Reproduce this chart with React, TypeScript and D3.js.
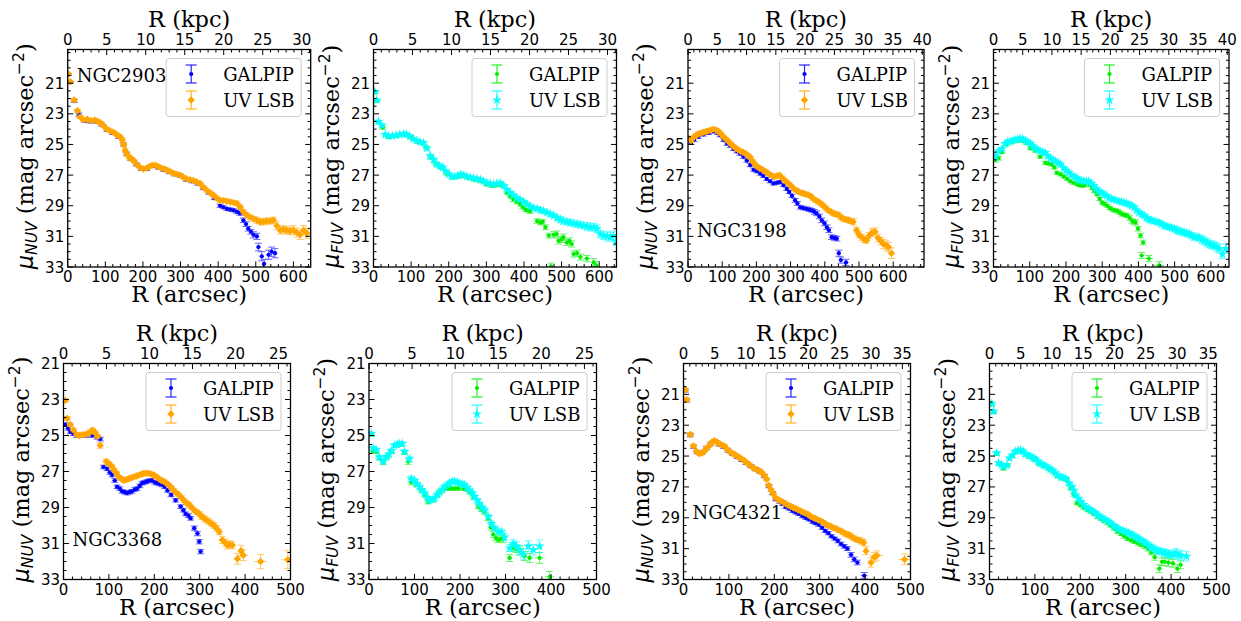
import React from "react";
import * as d3 from "d3";

type P = [number, number, number];

// ---------------- DATA: [R (arcsec), mu (mag/arcsec^2), error] ----------------
const ngc2903NuvLsb: P[] = [[2,20.4,0.05],[7,20.9,0.05],[17,22.1,0.1],[26,22.8,0.1],[33,23.2,0.1],[42,23.4,0.1],[52,23.35,0.1],[62,23.45,0.1],[72,23.4,0.1],[80,23.5,0.1],[88,23.6,0.1],[96,23.8,0.1],[104,24.0,0.1],[112,24.1,0.1],[121,24.2,0.1],[130,24.35,0.1],[139,24.5,0.1],[145,24.7,0.15],[149,25.0,0.15],[153,25.4,0.15],[158,25.65,0.15],[164,25.85,0.15],[170,25.95,0.1],[177,26.1,0.1],[185,26.35,0.1],[193,26.5,0.1],[201,26.6,0.1],[209,26.55,0.1],[217,26.45,0.1],[225,26.35,0.1],[233,26.35,0.1],[241,26.45,0.1],[250,26.55,0.1],[258,26.6,0.1],[266,26.7,0.1],[274,26.8,0.1],[283,26.9,0.1],[291,26.95,0.1],[299,27.0,0.1],[308,27.15,0.1],[316,27.25,0.1],[325,27.3,0.1],[334,27.35,0.1],[343,27.45,0.1],[352,27.55,0.1],[361,27.8,0.1],[370,28.0,0.1],[378,28.15,0.1],[387,28.3,0.12],[396,28.5,0.12],[405,28.65,0.12],[414,28.65,0.12],[423,28.7,0.12],[432,28.75,0.12],[441,28.8,0.12],[450,28.85,0.15],[459,29.1,0.15],[467,29.4,0.15],[476,29.6,0.15],[485,29.75,0.15],[494,29.85,0.15],[503,29.95,0.2],[512,30.05,0.2],[520,30.05,0.2],[529,30.0,0.2],[538,30.0,0.2],[547,29.95,0.2],[556,30.3,0.25],[565,30.6,0.25],[574,30.55,0.25],[582,30.6,0.25],[591,30.65,0.25],[600,30.6,0.3],[609,30.75,0.3],[618,30.9,0.3],[627,30.6,0.3],[636,30.8,0.35]];
const ngc2903NuvGalpip: P[] = [[2,20.45,0.05],[7,20.95,0.05],[17,22.15,0.1],[30,23.05,0.1],[45,23.45,0.1],[60,23.5,0.1],[75,23.5,0.1],[90,23.7,0.1],[105,24.05,0.1],[120,24.25,0.1],[135,24.5,0.1],[148,25.0,0.1],[156,25.6,0.1],[168,25.95,0.1],[182,26.3,0.1],[196,26.6,0.1],[210,26.6,0.1],[225,26.4,0.1],[240,26.5,0.1],[255,26.65,0.1],[270,26.8,0.1],[285,26.95,0.1],[300,27.05,0.1],[315,27.3,0.1],[330,27.4,0.1],[345,27.55,0.1],[360,27.85,0.1],[375,28.15,0.1],[390,28.5,0.1],[405,29.0,0.1],[414,29.1,0.1],[423,29.2,0.1],[432,29.25,0.1],[441,29.3,0.1],[450,29.4,0.12],[458,29.5,0.12],[467,29.95,0.15],[474,30.2,0.15],[480,30.5,0.15],[487,30.7,0.15],[494,30.9,0.2],[503,31.0,0.2],[507,31.7,0.25],[516,32.3,0.3],[522,32.8,0.3],[534,32.2,0.3],[542,32.0,0.3],[551,32.1,0.3]];
const ngc2903FuvLsb: P[] = [[4,21.55,0.05],[9,22.1,0.05],[13,23.5,0.1],[22,23.75,0.1],[31,24.35,0.1],[40,24.45,0.1],[50,24.45,0.1],[60,24.4,0.1],[70,24.35,0.1],[80,24.3,0.1],[88,24.35,0.1],[96,24.45,0.1],[106,24.65,0.1],[115,24.75,0.1],[124,24.85,0.1],[133,24.9,0.1],[142,25.25,0.12],[151,25.75,0.12],[160,26.0,0.12],[168,26.3,0.12],[176,26.4,0.1],[184,26.5,0.1],[192,26.75,0.1],[200,26.95,0.1],[208,27.1,0.1],[216,27.1,0.1],[224,27.05,0.1],[232,26.95,0.1],[240,27.0,0.1],[248,27.1,0.1],[257,27.15,0.1],[266,27.2,0.1],[275,27.25,0.1],[284,27.3,0.1],[293,27.4,0.1],[301,27.5,0.1],[310,27.55,0.1],[319,27.6,0.1],[328,27.55,0.1],[337,27.5,0.1],[346,27.7,0.1],[355,27.95,0.1],[363,28.15,0.1],[372,28.3,0.1],[381,28.5,0.12],[390,28.6,0.12],[399,28.75,0.12],[408,28.9,0.12],[417,29.05,0.12],[426,29.15,0.12],[435,29.2,0.15],[444,29.3,0.15],[452,29.35,0.15],[461,29.45,0.15],[470,29.55,0.15],[479,29.65,0.15],[488,29.8,0.15],[497,29.9,0.2],[505,30.0,0.2],[514,30.05,0.2],[523,30.1,0.2],[532,30.15,0.2],[541,30.2,0.2],[550,30.25,0.2],[559,30.3,0.2],[568,30.35,0.25],[577,30.4,0.25],[586,30.4,0.25],[594,30.5,0.25],[603,30.85,0.25],[612,30.95,0.25],[621,31.0,0.3],[630,31.05,0.3],[638,30.95,0.3],[645,31.3,0.3]];
const ngc2903FuvGalpip: P[] = [[4,21.6,0.05],[9,22.15,0.05],[13,23.55,0.1],[25,23.9,0.1],[40,24.5,0.1],[60,24.45,0.1],[80,24.35,0.1],[100,24.55,0.1],[120,24.85,0.1],[140,25.2,0.1],[152,25.85,0.1],[165,26.25,0.1],[180,26.5,0.1],[195,26.9,0.1],[210,27.15,0.1],[225,27.1,0.1],[240,27.05,0.1],[255,27.2,0.1],[270,27.3,0.1],[285,27.4,0.1],[300,27.6,0.1],[315,27.7,0.1],[330,27.65,0.1],[342,27.65,0.1],[355,28.15,0.1],[364,28.4,0.1],[372,28.6,0.12],[381,28.75,0.12],[390,28.9,0.12],[397,29.1,0.12],[404,29.25,0.12],[411,29.3,0.12],[417,29.35,0.15],[435,30.0,0.15],[444,30.1,0.15],[450,30.05,0.15],[457,30.4,0.15],[466,30.95,0.15],[472,32.95,0.2],[479,30.9,0.2],[487,30.85,0.2],[492,31.3,0.2],[500,31.2,0.2],[505,31.05,0.2],[514,31.4,0.2],[521,31.3,0.2],[527,31.5,0.2],[532,32.15,0.2],[541,32.1,0.2],[550,32.35,0.2],[567,32.45,0.2],[585,32.7,0.25],[592,32.9,0.25]];

const ngc3198NuvLsb: P[] = [[2,24.6,0.1],[9,24.75,0.1],[18,24.5,0.1],[25,24.4,0.1],[31,24.3,0.1],[39,24.25,0.1],[46,24.2,0.1],[53,24.15,0.1],[60,24.1,0.1],[68,24.05,0.1],[75,24.0,0.1],[82,24.05,0.1],[89,24.15,0.1],[96,24.3,0.1],[104,24.5,0.1],[111,24.65,0.1],[118,24.8,0.1],[125,24.95,0.1],[132,25.1,0.1],[140,25.25,0.1],[147,25.35,0.1],[154,25.45,0.1],[161,25.5,0.1],[168,25.6,0.1],[175,25.7,0.1],[182,25.85,0.1],[189,26.1,0.1],[196,26.3,0.1],[203,26.45,0.1],[210,26.55,0.1],[218,26.65,0.1],[225,26.75,0.1],[232,26.85,0.1],[239,26.95,0.1],[246,27.05,0.1],[253,27.1,0.1],[260,27.05,0.1],[267,27.0,0.1],[274,27.15,0.1],[281,27.3,0.1],[288,27.45,0.1],[296,27.6,0.1],[303,27.75,0.1],[310,27.9,0.1],[317,28.0,0.1],[324,28.1,0.1],[331,28.15,0.1],[338,28.2,0.1],[345,28.25,0.1],[352,28.3,0.1],[360,28.4,0.1],[367,28.55,0.1],[374,28.65,0.12],[381,28.75,0.12],[388,28.85,0.12],[396,29.0,0.12],[403,29.15,0.12],[410,29.3,0.12],[418,29.4,0.12],[425,29.5,0.15],[432,29.55,0.15],[440,29.6,0.15],[447,29.75,0.15],[454,29.85,0.15],[462,29.9,0.15],[469,29.95,0.15],[476,30.0,0.15],[483,30.05,0.2],[493,30.6,0.2],[500,30.9,0.2],[508,31.05,0.2],[515,31.2,0.2],[522,31.25,0.2],[530,30.95,0.2],[538,30.75,0.25],[547,30.7,0.25],[556,31.1,0.25],[564,31.3,0.25],[571,31.5,0.3],[580,31.6,0.3],[586,31.7,0.3],[595,32.1,0.35]];
const ngc3198NuvGalpip: P[] = [[2,24.75,0.1],[9,24.9,0.1],[18,24.7,0.1],[30,24.5,0.1],[45,24.35,0.1],[60,24.25,0.1],[75,24.15,0.1],[87,24.25,0.1],[94,24.4,0.1],[104,24.7,0.1],[114,24.95,0.1],[124,25.1,0.1],[133,25.3,0.1],[143,25.45,0.1],[152,25.6,0.1],[162,25.8,0.1],[172,26.05,0.1],[182,26.35,0.1],[192,26.65,0.1],[201,26.75,0.1],[211,26.9,0.1],[220,27.05,0.1],[230,27.25,0.1],[240,27.4,0.1],[250,27.55,0.1],[260,27.5,0.1],[269,27.45,0.1],[279,27.65,0.1],[289,27.9,0.1],[296,28.1,0.1],[304,28.35,0.1],[313,28.65,0.12],[320,28.85,0.12],[328,29.1,0.12],[337,29.15,0.12],[347,29.2,0.12],[355,29.25,0.12],[362,29.3,0.12],[369,29.4,0.15],[376,29.5,0.15],[384,29.7,0.15],[391,29.95,0.15],[399,30.15,0.15],[406,30.4,0.15],[412,30.6,0.15],[420,31.05,0.15],[428,31.1,0.15],[435,31.15,0.15],[441,32.1,0.2],[447,32.55,0.2],[462,32.7,0.2]];
const ngc3198FuvLsb: P[] = [[5,25.8,0.15],[14,25.45,0.12],[23,25.3,0.1],[32,24.95,0.1],[39,24.85,0.1],[46,24.8,0.1],[53,24.75,0.1],[60,24.7,0.1],[67,24.65,0.1],[74,24.6,0.1],[81,24.65,0.1],[88,24.75,0.1],[95,24.85,0.1],[102,24.95,0.1],[109,25.1,0.1],[115,25.25,0.1],[122,25.35,0.1],[129,25.45,0.1],[136,25.5,0.1],[143,25.55,0.1],[150,25.75,0.1],[157,25.9,0.1],[164,26.0,0.1],[171,26.1,0.1],[178,26.2,0.1],[185,26.3,0.1],[194,26.55,0.1],[201,26.7,0.1],[208,26.85,0.1],[215,27.0,0.1],[222,27.1,0.1],[229,27.2,0.1],[235,27.3,0.1],[242,27.35,0.1],[249,27.4,0.1],[256,27.4,0.1],[263,27.4,0.1],[270,27.55,0.1],[277,27.7,0.1],[284,27.9,0.1],[291,28.05,0.1],[298,28.15,0.1],[305,28.25,0.1],[312,28.35,0.1],[319,28.5,0.1],[326,28.55,0.1],[332,28.6,0.1],[339,28.65,0.1],[346,28.7,0.1],[353,28.75,0.1],[360,28.8,0.1],[367,28.85,0.1],[374,28.9,0.12],[381,29.0,0.12],[388,29.1,0.12],[395,29.3,0.12],[402,29.45,0.12],[409,29.55,0.12],[416,29.65,0.12],[422,29.8,0.12],[429,29.9,0.15],[436,29.95,0.15],[443,30.0,0.15],[450,30.05,0.15],[457,30.1,0.15],[464,30.2,0.15],[471,30.3,0.15],[478,30.35,0.15],[485,30.4,0.15],[492,30.45,0.15],[499,30.5,0.2],[506,30.6,0.2],[512,30.65,0.2],[519,30.7,0.2],[526,30.75,0.2],[533,30.8,0.2],[540,30.85,0.2],[547,30.95,0.2],[554,31.05,0.2],[561,31.05,0.2],[568,31.1,0.2],[575,31.2,0.25],[582,31.3,0.25],[589,31.4,0.25],[596,31.5,0.25],[602,31.55,0.25],[609,31.6,0.25],[616,31.7,0.3],[623,31.8,0.3],[632,32.15,0.3],[641,31.8,0.3]];
const ngc3198FuvGalpip: P[] = [[5,26.0,0.15],[14,25.9,0.12],[23,25.5,0.1],[35,25.0,0.1],[50,24.85,0.1],[65,24.75,0.1],[80,24.75,0.1],[92,24.9,0.1],[102,25.25,0.1],[115,25.4,0.1],[129,25.8,0.1],[143,26.2,0.1],[152,26.25,0.1],[161,26.3,0.1],[168,26.5,0.1],[175,26.85,0.1],[185,26.95,0.1],[194,27.1,0.1],[203,27.25,0.1],[212,27.4,0.1],[221,27.5,0.1],[231,27.6,0.1],[238,27.65,0.1],[245,27.7,0.1],[252,27.65,0.1],[259,27.5,0.1],[266,27.65,0.1],[272,27.85,0.1],[279,28.05,0.1],[286,28.25,0.1],[293,28.55,0.1],[300,28.8,0.1],[307,28.9,0.1],[314,29.0,0.1],[321,29.15,0.1],[328,29.25,0.1],[335,29.3,0.12],[342,29.35,0.12],[349,29.45,0.12],[355,29.55,0.12],[362,29.6,0.12],[369,29.65,0.12],[376,29.8,0.15],[383,30.0,0.15],[388,30.05,0.15],[392,30.1,0.15],[399,30.5,0.15],[406,30.95,0.15],[409,32.25,0.2],[413,31.4,0.15],[429,32.45,0.2],[457,32.9,0.25]];

const ngc3368NuvLsb: P[] = [[4,23.05,0.1],[8,24.05,0.1],[15,24.4,0.1],[22,24.7,0.1],[29,24.95,0.1],[35,25.0,0.1],[41,24.95,0.1],[47,24.95,0.1],[53,24.9,0.1],[59,24.8,0.1],[64,24.7,0.1],[70,24.85,0.1],[75,25.05,0.1],[81,25.55,0.15],[94,26.45,0.15],[100,26.55,0.1],[106,26.7,0.1],[111,26.9,0.1],[117,27.1,0.1],[122,27.3,0.1],[128,27.4,0.1],[133,27.5,0.1],[139,27.45,0.1],[144,27.4,0.1],[150,27.35,0.1],[155,27.3,0.1],[161,27.25,0.1],[166,27.2,0.1],[172,27.15,0.1],[177,27.1,0.1],[183,27.1,0.1],[188,27.1,0.1],[194,27.15,0.1],[199,27.2,0.1],[205,27.3,0.1],[210,27.4,0.1],[216,27.5,0.1],[221,27.55,0.1],[227,27.65,0.1],[232,27.75,0.1],[238,27.9,0.1],[243,28.05,0.1],[249,28.2,0.1],[254,28.3,0.1],[260,28.45,0.1],[265,28.6,0.1],[271,28.75,0.12],[277,28.85,0.12],[282,29.0,0.12],[288,29.15,0.12],[293,29.25,0.12],[299,29.35,0.12],[304,29.5,0.15],[310,29.6,0.15],[315,29.7,0.15],[321,29.8,0.15],[326,29.9,0.15],[332,30.0,0.15],[337,30.15,0.15],[343,30.35,0.15],[350,30.8,0.2],[356,30.95,0.2],[361,31.1,0.2],[366,31.05,0.2],[372,31.1,0.2],[383,31.85,0.3],[391,31.4,0.3],[396,31.65,0.3],[434,32.0,0.4],[494,31.9,0.5]];
const ngc3368NuvGalpip: P[] = [[4,24.4,0.1],[10,24.6,0.1],[15,24.8,0.1],[22,24.9,0.1],[29,25.0,0.1],[40,25.0,0.1],[52,25.0,0.1],[63,25.0,0.1],[74,25.1,0.1],[81,25.2,0.1],[88,26.75,0.1],[96,26.85,0.1],[102,27.05,0.1],[107,27.2,0.1],[113,27.5,0.1],[118,27.85,0.1],[124,27.95,0.1],[129,28.1,0.1],[135,28.15,0.1],[140,28.2,0.1],[146,28.15,0.1],[151,28.1,0.1],[157,28.0,0.1],[162,27.95,0.1],[168,27.8,0.1],[173,27.65,0.1],[179,27.6,0.1],[184,27.55,0.1],[190,27.5,0.1],[195,27.5,0.1],[201,27.6,0.1],[206,27.65,0.1],[212,27.7,0.1],[218,27.75,0.1],[223,27.85,0.1],[229,28.05,0.1],[237,28.3,0.1],[247,28.6,0.1],[258,28.95,0.1],[264,29.15,0.1],[269,29.35,0.1],[275,29.45,0.1],[280,29.6,0.1],[288,30.15,0.12],[295,30.45,0.12],[299,30.9,0.12],[302,31.45,0.12]];
const ngc3368FuvLsb: P[] = [[5,24.9,0.1],[9,25.7,0.1],[16,25.8,0.1],[23,26.2,0.1],[31,26.45,0.1],[38,26.2,0.1],[44,26.05,0.1],[49,25.85,0.1],[56,25.55,0.1],[62,25.5,0.1],[67,25.45,0.1],[73,25.45,0.1],[78,25.9,0.1],[89,26.3,0.15],[93,27.4,0.15],[100,27.5,0.1],[106,27.7,0.1],[111,27.85,0.1],[117,28.05,0.1],[122,28.2,0.1],[128,28.45,0.1],[133,28.6,0.1],[139,28.55,0.1],[144,28.5,0.1],[150,28.3,0.1],[155,28.15,0.1],[161,28.0,0.1],[166,27.85,0.1],[172,27.75,0.1],[177,27.65,0.1],[183,27.55,0.1],[188,27.55,0.1],[194,27.6,0.1],[199,27.65,0.1],[205,27.7,0.1],[210,27.75,0.1],[216,27.9,0.1],[221,28.05,0.1],[227,28.2,0.1],[232,28.4,0.1],[238,28.6,0.1],[243,28.8,0.1],[249,29.0,0.12],[254,29.15,0.12],[262,29.5,0.12],[269,29.9,0.15],[276,30.15,0.15],[284,30.35,0.15],[291,30.35,0.15],[298,30.65,0.2],[309,31.25,0.2],[317,31.0,0.2],[324,31.15,0.25],[331,31.35,0.25],[339,31.6,0.3],[350,31.15,0.3],[361,31.35,0.3],[375,31.15,0.35]];
const ngc3368FuvGalpip: P[] = [[5,24.95,0.1],[9,25.9,0.1],[16,25.9,0.1],[23,26.25,0.1],[31,26.5,0.1],[40,26.2,0.1],[50,25.9,0.1],[60,25.55,0.1],[70,25.5,0.1],[78,25.95,0.1],[86,26.45,0.15],[93,27.6,0.15],[104,27.75,0.1],[115,28.05,0.1],[124,28.35,0.1],[130,28.7,0.1],[140,28.6,0.1],[150,28.3,0.1],[158,28.1,0.1],[166,27.95,0.1],[174,27.95,0.1],[181,27.95,0.1],[189,27.95,0.1],[196,27.95,0.1],[207,27.95,0.1],[215,28.0,0.1],[222,28.15,0.1],[230,28.45,0.1],[240,28.95,0.12],[247,29.1,0.12],[254,29.25,0.12],[262,29.6,0.12],[268,30.1,0.15],[273,30.5,0.15],[279,30.7,0.15],[284,30.8,0.15],[290,30.75,0.15],[295,30.75,0.2],[309,31.8,0.2],[317,31.25,0.2],[324,31.3,0.2],[331,31.4,0.25],[342,31.7,0.25],[353,31.8,0.25],[375,31.8,0.3],[397,32.85,0.3]];

const ngc4321NuvLsb: P[] = [[4,20.7,0.1],[7,21.35,0.1],[15,23.6,0.12],[22,24.35,0.12],[29,24.7,0.1],[35,24.85,0.1],[41,24.8,0.1],[47,24.65,0.1],[52,24.45,0.1],[58,24.3,0.1],[63,24.1,0.1],[68,24.0,0.1],[74,24.1,0.1],[79,24.2,0.1],[85,24.3,0.1],[90,24.35,0.1],[96,24.55,0.1],[101,24.7,0.1],[107,24.8,0.1],[112,24.9,0.1],[118,25.0,0.1],[123,25.1,0.1],[129,25.2,0.1],[134,25.3,0.1],[140,25.45,0.1],[145,25.55,0.1],[151,25.7,0.1],[156,25.8,0.1],[162,25.9,0.1],[167,25.95,0.1],[173,26.1,0.1],[178,26.25,0.1],[183,26.5,0.1],[188,26.9,0.1],[193,27.2,0.1],[198,27.45,0.1],[203,27.7,0.1],[209,27.85,0.1],[214,27.9,0.1],[220,28.0,0.1],[225,28.1,0.1],[231,28.2,0.1],[236,28.25,0.1],[242,28.35,0.1],[247,28.4,0.1],[253,28.5,0.1],[258,28.55,0.1],[264,28.65,0.1],[269,28.7,0.1],[275,28.8,0.1],[280,28.9,0.1],[286,29.0,0.1],[291,29.05,0.1],[297,29.15,0.1],[302,29.2,0.1],[308,29.3,0.1],[313,29.4,0.1],[319,29.5,0.12],[324,29.55,0.12],[330,29.65,0.12],[336,29.7,0.12],[341,29.8,0.12],[347,29.85,0.12],[352,29.95,0.12],[358,30.05,0.15],[363,30.1,0.15],[369,30.2,0.15],[374,30.3,0.15],[380,30.4,0.15],[386,30.45,0.15],[391,30.5,0.2],[397,30.6,0.2],[402,31.15,0.25],[413,31.9,0.3],[420,31.55,0.3],[426,31.45,0.3],[487,31.7,0.35]];
const ngc4321NuvGalpip: P[] = [[4,20.75,0.1],[7,21.4,0.1],[15,23.65,0.1],[22,24.4,0.1],[30,24.75,0.1],[40,24.8,0.1],[50,24.5,0.1],[60,24.2,0.1],[68,24.05,0.1],[78,24.25,0.1],[88,24.4,0.1],[98,24.65,0.1],[108,24.85,0.1],[118,25.05,0.1],[128,25.25,0.1],[138,25.45,0.1],[148,25.65,0.1],[158,25.85,0.1],[168,26.0,0.1],[178,26.3,0.1],[188,26.95,0.1],[196,27.4,0.1],[203,27.8,0.1],[211,27.95,0.1],[218,28.1,0.1],[225,28.3,0.1],[232,28.4,0.1],[240,28.55,0.1],[247,28.65,0.1],[254,28.75,0.1],[262,28.9,0.1],[269,29.0,0.1],[276,29.1,0.1],[284,29.25,0.1],[291,29.35,0.1],[298,29.45,0.1],[305,29.65,0.1],[312,29.85,0.1],[319,30.0,0.1],[326,30.2,0.1],[333,30.35,0.1],[340,30.5,0.12],[347,30.7,0.12],[354,30.85,0.12],[361,31.0,0.12],[369,31.4,0.15],[376,31.7,0.15],[383,31.9,0.15],[398,32.75,0.2]];
const ngc4321FuvLsb: P[] = [[5,21.6,0.1],[9,22.1,0.1],[16,24.8,0.1],[20,25.45,0.1],[26,25.55,0.1],[31,25.7,0.1],[38,25.6,0.1],[44,25.15,0.1],[50,24.95,0.1],[57,24.7,0.1],[63,24.65,0.1],[68,24.6,0.1],[74,24.7,0.1],[79,24.85,0.1],[85,24.95,0.1],[90,25.0,0.1],[96,25.1,0.1],[101,25.2,0.1],[107,25.35,0.1],[112,25.5,0.1],[118,25.55,0.1],[123,25.65,0.1],[129,25.75,0.1],[134,25.85,0.1],[140,25.95,0.1],[145,26.1,0.1],[151,26.25,0.1],[157,26.35,0.1],[162,26.4,0.1],[168,26.45,0.1],[175,26.75,0.1],[182,27.0,0.1],[186,27.25,0.1],[190,27.55,0.1],[196,27.75,0.1],[201,27.95,0.1],[207,28.15,0.1],[212,28.3,0.1],[218,28.4,0.1],[223,28.5,0.1],[229,28.6,0.1],[234,28.7,0.1],[240,28.85,0.1],[245,28.95,0.1],[251,29.05,0.1],[256,29.15,0.1],[262,29.25,0.1],[267,29.35,0.1],[273,29.5,0.12],[278,29.6,0.12],[284,29.7,0.12],[289,29.8,0.12],[295,29.85,0.12],[301,29.9,0.12],[306,30.0,0.12],[312,30.05,0.15],[317,30.15,0.15],[323,30.25,0.15],[328,30.35,0.15],[334,30.45,0.15],[340,30.55,0.15],[345,30.65,0.15],[351,30.8,0.2],[356,30.9,0.2],[362,31.0,0.2],[367,31.1,0.2],[373,31.15,0.2],[378,31.2,0.2],[384,31.25,0.25],[389,31.3,0.25],[395,31.35,0.25],[400,31.4,0.25],[406,31.35,0.25],[411,31.3,0.3],[417,31.4,0.3],[422,31.45,0.3],[434,31.5,0.3]];
const ngc4321FuvGalpip: P[] = [[5,21.65,0.1],[9,22.15,0.1],[16,24.85,0.1],[22,25.5,0.1],[31,25.8,0.1],[40,25.6,0.1],[50,25.0,0.1],[60,24.7,0.1],[70,24.65,0.1],[80,24.9,0.1],[90,25.05,0.1],[100,25.25,0.1],[110,25.5,0.1],[120,25.65,0.1],[130,25.8,0.1],[140,26.0,0.1],[150,26.3,0.1],[160,26.45,0.1],[170,26.55,0.1],[179,27.1,0.1],[186,27.5,0.1],[193,28.05,0.1],[201,28.2,0.1],[208,28.35,0.1],[216,28.5,0.1],[223,28.6,0.1],[231,28.75,0.1],[238,28.95,0.1],[245,29.05,0.1],[253,29.2,0.1],[260,29.35,0.1],[267,29.5,0.1],[275,29.7,0.1],[282,29.9,0.1],[290,30.05,0.1],[297,30.2,0.12],[304,30.35,0.12],[312,30.45,0.12],[319,30.55,0.12],[327,30.65,0.12],[334,30.75,0.12],[342,30.85,0.15],[349,31.0,0.15],[356,31.25,0.15],[364,31.55,0.2],[374,32.3,0.25],[380,31.85,0.25],[386,31.85,0.25],[394,31.9,0.25],[404,31.95,0.25],[414,32.3,0.25],[421,32.05,0.25]];

// ---------------- TICKS / LABELS ----------------
const rTicks600 = [0, 100, 200, 300, 400, 500, 600];
const rTicks500 = [0, 100, 200, 300, 400, 500];
const kpcTicks30 = [0, 5, 10, 15, 20, 25, 30];
const kpcTicks40 = [0, 5, 10, 15, 20, 25, 30, 35, 40];
const kpcTicks25 = [0, 5, 10, 15, 20, 25];
const kpcTicks35 = [0, 5, 10, 15, 20, 25, 30, 35];
const muTicks = [21, 23, 25, 27, 29, 31, 33];
const seriesNames = ["GALPIP", "UV LSB"];

// ---------------- LAYOUT / STYLE ----------------
const TOP = { y0: 49.5, y1: 267 };
const BOT = { y0: 363.5, y1: 579.5 };
const COL = {
  NUV: { g: "#0000ff", l: "#ffa500", gm: "dot", lm: "diamond" },
  FUV: { g: "#00ee00", l: "#00ffff", gm: "dot", lm: "star" },
} as const;

type Panel = {
  name: string | null; band: "NUV" | "FUV"; g: P[]; l: P[];
  x0: number; x1: number; row: { y0: number; y1: number };
  rMax: number; kMax: number; rT: number[]; kT: number[]; yTop: number;
  labelY?: number;
};

const panels: Panel[] = [
  { name: "NGC2903", band: "NUV", g: ngc2903NuvGalpip, l: ngc2903NuvLsb, x0: 67.7, x1: 310.7, row: TOP, rMax: 646, kMax: 31.15, rT: rTicks600, kT: kpcTicks30, yTop: 18.8, labelY: TOP.y0 + 32 },
  { name: null, band: "FUV", g: ngc2903FuvGalpip, l: ngc2903FuvLsb, x0: 373.5, x1: 616.5, row: TOP, rMax: 646, kMax: 31.15, rT: rTicks600, kT: kpcTicks30, yTop: 18.8 },
  { name: "NGC3198", band: "NUV", g: ngc3198NuvGalpip, l: ngc3198NuvLsb, x0: 688, x1: 924, row: TOP, rMax: 690, kMax: 40.3, rT: rTicks600, kT: kpcTicks40, yTop: 18.8, labelY: TOP.y1 - 30 },
  { name: null, band: "FUV", g: ngc3198FuvGalpip, l: ngc3198FuvLsb, x0: 993.5, x1: 1229, row: TOP, rMax: 650, kMax: 40.3, rT: rTicks600, kT: kpcTicks40, yTop: 18.8 },
  { name: "NGC3368", band: "NUV", g: ngc3368NuvGalpip, l: ngc3368NuvLsb, x0: 63.5, x1: 290.5, row: BOT, rMax: 500, kMax: 26.4, rT: rTicks500, kT: kpcTicks25, yTop: 21, labelY: BOT.y1 - 33.5 },
  { name: null, band: "FUV", g: ngc3368FuvGalpip, l: ngc3368FuvLsb, x0: 369, x1: 596.5, row: BOT, rMax: 500, kMax: 26.4, rT: rTicks500, kT: kpcTicks25, yTop: 21 },
  { name: "NGC4321", band: "NUV", g: ngc4321NuvGalpip, l: ngc4321NuvLsb, x0: 683.5, x1: 910.5, row: BOT, rMax: 500, kMax: 36.3, rT: rTicks500, kT: kpcTicks35, yTop: 19, labelY: BOT.y1 - 61 },
  { name: null, band: "FUV", g: ngc4321FuvGalpip, l: ngc4321FuvLsb, x0: 989.5, x1: 1216.5, row: BOT, rMax: 500, kMax: 36.3, rT: rTicks500, kT: kpcTicks35, yTop: 19 },
];

const SANS = "DejaVu Sans, sans-serif";
const SERIF = "DejaVu Serif, serif";
const TICK_FS = 15;
const LABEL_FS = 22.5;

function halfGaps(data: P[]): number[] {
  const rs = Array.from(new Set(data.map((d) => d[0]))).sort((a, b) => a - b);
  return data.map((d) => {
    const i = rs.indexOf(d[0]);
    const gaps: number[] = [];
    if (i > 0) gaps.push(rs[i] - rs[i - 1]);
    if (i < rs.length - 1) gaps.push(rs[i + 1] - rs[i]);
    const g = gaps.length ? d3.mean(gaps)! / 2 : 6;
    return Math.max(6, Math.min(14, g));
  });
}

function Marker({ kind, x, y, color }: { kind: string; x: number; y: number; color: string }) {
  if (kind === "dot") return <circle cx={x} cy={y} r={2.1} fill={color} />;
  if (kind === "diamond") {
    const s = 3.7;
    return <path d={`M${x},${y - s}L${x + s},${y}L${x},${y + s}L${x - s},${y}Z`} fill={color} />;
  }
  const p = d3.symbol().type(d3.symbolStar).size(30)() as string;
  return <path d={p} transform={`translate(${x},${y})`} fill={color} />;
}

function Series({ data, xs, ys, color, marker }: { data: P[]; xs: d3.ScaleLinear<number, number>; ys: d3.ScaleLinear<number, number>; color: string; marker: string }) {
  const xe = halfGaps(data);
  const cap = 3.5;
  return (
    <g>
      <g stroke={color} strokeWidth={1} opacity={0.6} fill="none">
        {data.map((d, i) => {
          const cx = xs(d[0]);
          const cy = ys(d[1]);
          const ya = ys(d[1] - d[2]);
          const yb = ys(d[1] + d[2]);
          return (
            <g key={i}>
              <line x1={xs(d[0] - xe[i])} x2={xs(d[0] + xe[i])} y1={cy} y2={cy} />
              <line x1={cx} x2={cx} y1={ya} y2={yb} />
              <line x1={cx - cap} x2={cx + cap} y1={ya} y2={ya} />
              <line x1={cx - cap} x2={cx + cap} y1={yb} y2={yb} />
            </g>
          );
        })}
      </g>
      {data.map((d, i) => (
        <Marker key={i} kind={marker} x={xs(d[0])} y={ys(d[1])} color={color} />
      ))}
    </g>
  );
}

function PanelView({ p, idx }: { p: Panel; idx: number }) {
  const { y0, y1 } = p.row;
  const xs = d3.scaleLinear().domain([0, p.rMax]).range([p.x0, p.x1]);
  const ks = d3.scaleLinear().domain([0, p.kMax]).range([p.x0, p.x1]);
  const ys = d3.scaleLinear().domain([p.yTop, 33]).range([y0, y1]);
  const c = COL[p.band];
  const clip = `clip${idx}`;
  const MAJ = 5.5, MIN = 3;

  const rMinor = d3.range(0, p.rMax + 0.01, 20).filter((v) => v % 100 !== 0);
  const kMinor = d3.range(0, p.kMax + 0.01, 1).filter((v) => v % 5 !== 0);
  const yMinor = d3.range(Math.ceil(p.yTop * 2) / 2, 33.01, 0.5).filter((v) => !muTicks.includes(v));

  const lw = 135, lh = 58;
  const lx = p.x1 - 9.5 - lw, ly = y0 + 9;
  const cy = (y0 + y1) / 2 - 2;
  const ylx = p.x0 - 35;

  return (
    <g>
      <defs>
        <clipPath id={clip}>
          <rect x={p.x0} y={y0} width={p.x1 - p.x0} height={y1 - y0} />
        </clipPath>
      </defs>
      <g clipPath={`url(#${clip})`}>
        <Series data={p.g} xs={xs} ys={ys} color={c.g} marker={c.gm} />
        <Series data={p.l} xs={xs} ys={ys} color={c.l} marker={c.lm} />
      </g>

      {/* ticks */}
      <g stroke="#000" strokeWidth={1}>
        {p.rT.map((t) => <line key={"b" + t} x1={xs(t)} x2={xs(t)} y1={y1} y2={y1 - MAJ} />)}
        {rMinor.map((t) => <line key={"bm" + t} x1={xs(t)} x2={xs(t)} y1={y1} y2={y1 - MIN} />)}
        {p.kT.map((t) => <line key={"t" + t} x1={ks(t)} x2={ks(t)} y1={y0} y2={y0 + MAJ} />)}
        {kMinor.map((t) => <line key={"tm" + t} x1={ks(t)} x2={ks(t)} y1={y0} y2={y0 + MIN} />)}
        {muTicks.map((t) => (
          <g key={"y" + t}>
            <line x1={p.x0} x2={p.x0 + MAJ} y1={ys(t)} y2={ys(t)} />
            <line x1={p.x1} x2={p.x1 - MAJ} y1={ys(t)} y2={ys(t)} />
          </g>
        ))}
        {yMinor.map((t) => (
          <g key={"ym" + t}>
            <line x1={p.x0} x2={p.x0 + MIN} y1={ys(t)} y2={ys(t)} />
            <line x1={p.x1} x2={p.x1 - MIN} y1={ys(t)} y2={ys(t)} />
          </g>
        ))}
      </g>
      <rect x={p.x0} y={y0} width={p.x1 - p.x0} height={y1 - y0} fill="none" stroke="#000" strokeWidth={1.3} />

      {/* tick labels */}
      <g fontFamily={SANS} fontSize={TICK_FS} fill="#000">
        {p.rT.map((t) => <text key={"bl" + t} x={xs(t)} y={y1 + 15} textAnchor="middle">{t}</text>)}
        {p.kT.map((t) => <text key={"tl" + t} x={ks(t)} y={y0 - 5} textAnchor="middle">{t}</text>)}
        {muTicks.map((t) => <text key={"yl" + t} x={p.x0 - 3.5} y={ys(t) + 5.5} textAnchor="end">{t}</text>)}
      </g>

      {/* axis labels */}
      <text x={(p.x0 + p.x1) / 2} y={y1 + 35} textAnchor="middle" fontFamily={SERIF} fontSize={LABEL_FS}>R (arcsec)</text>
      <text x={(p.x0 + p.x1) / 2} y={y0 - 22.5} textAnchor="middle" fontFamily={SERIF} fontSize={LABEL_FS}>R (kpc)</text>
      <text transform={`translate(${ylx},${cy}) rotate(-90)`} textAnchor="middle" fontSize={LABEL_FS} style={{ whiteSpace: "pre" }}>
        <tspan fontFamily={SANS} fontStyle="italic">μ</tspan>
        <tspan fontFamily={SANS} fontStyle="italic" fontSize={15.5} dy={4}>{p.band}</tspan>
        <tspan fontFamily={SERIF} dy={-4}>{"\u00a0(mag arcsec"}</tspan>
        <tspan fontFamily={SANS} fontSize={15.5} dy={-9}>−2</tspan>
        <tspan fontFamily={SERIF} dy={9}>)</tspan>
      </text>

      {/* galaxy name */}
      {p.name && p.labelY !== undefined && (
        <text x={p.x0 + 9} y={p.labelY} fontFamily={SERIF} fontSize={18}>{p.name}</text>
      )}

      {/* legend */}
      <g>
        <rect x={lx} y={ly} width={lw} height={lh} rx={3} fill="#fff" fillOpacity={0.8} stroke="#cccccc" strokeWidth={1} />
        {seriesNames.map((s, i) => {
          const hy = ly + 15.5 + i * 26;
          const hx = lx + 25;
          const col = i === 0 ? c.g : c.l;
          const mk = i === 0 ? c.gm : c.lm;
          return (
            <g key={s}>
              <g stroke={col} strokeWidth={1.2} opacity={0.85}>
                <line x1={hx} x2={hx} y1={hy - 9} y2={hy + 9} />
                <line x1={hx - 5.5} x2={hx + 5.5} y1={hy - 9} y2={hy - 9} />
                <line x1={hx - 5.5} x2={hx + 5.5} y1={hy + 9} y2={hy + 9} />
              </g>
              <Marker kind={mk} x={hx} y={hy} color={col} />
              <text x={lx + 57} y={hy + 6.5} fontFamily={SERIF} fontSize={18}>{s}</text>
            </g>
          );
        })}
      </g>
    </g>
  );
}

export default function App() {
  return (
    <svg width={1241} height={621} style={{ position: "fixed", left: 0, top: 0, background: "#fff" }}>
      <rect x={0} y={0} width={1241} height={621} fill="#fff" />
      {panels.map((p, i) => <PanelView key={i} p={p} idx={i} />)}
    </svg>
  );
}
